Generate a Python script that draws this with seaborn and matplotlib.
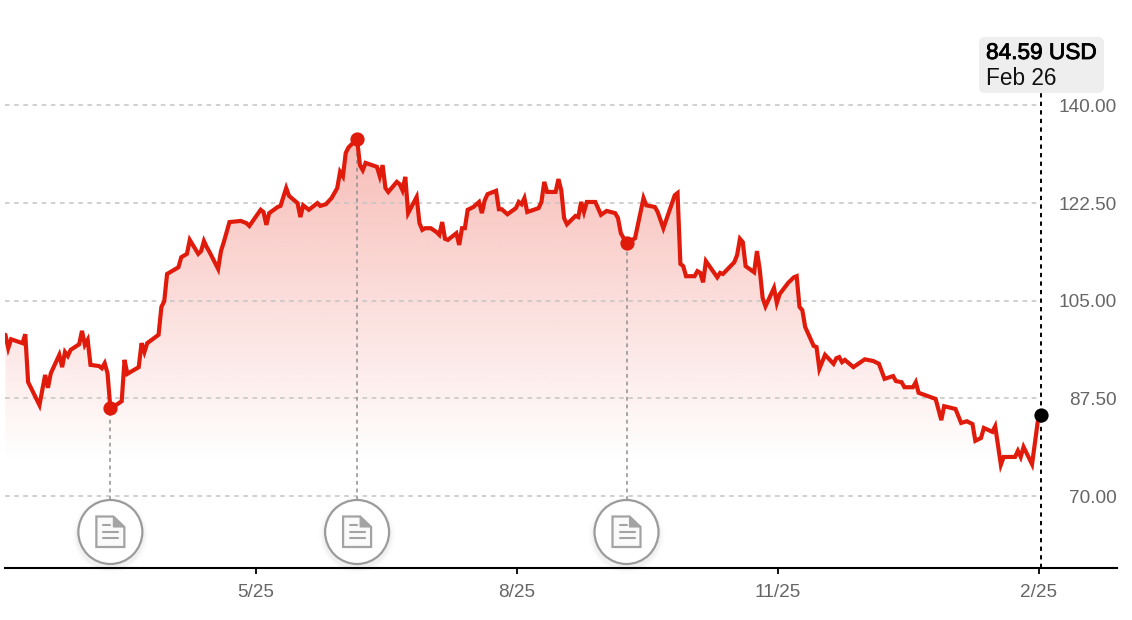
import numpy as np
import pandas as pd
import matplotlib
matplotlib.use("Agg")
import matplotlib.pyplot as plt
import matplotlib.dates as mdates
import matplotlib.patheffects as pe
from matplotlib.patches import Circle, FancyBboxPatch, Polygon
import seaborn as sns

# --- data ---
start_date = "2025-02-26"
days = [0, 1, 2, 6, 7, 8, 9, 12, 14, 15, 16, 19, 20, 21, 22, 23, 26, 27, 28, 29, 30, 33, 34, 35, 36, 37,
        39, 41, 42, 43, 47, 48, 49, 50, 54, 55, 56, 57, 58, 61, 62, 64, 65, 68, 69, 70, 71, 72, 75, 76, 77, 79,
        83, 85, 86, 90, 91, 92, 93, 96, 97, 99, 100, 103, 104, 105, 107, 110, 111, 113, 115, 117, 118, 119,
        120, 121, 124, 125, 126, 127, 131, 132, 133, 134, 135, 138, 139, 140, 141, 142, 145, 146, 147, 148,
        150, 152, 153, 154, 155, 156, 159, 160, 161, 162, 163, 165, 167, 168, 169, 170, 173, 174, 175, 177,
        180, 181, 182, 183, 184, 188, 189, 190, 191, 194, 195, 196, 197, 198, 201, 202, 203, 204, 205, 208,
        210, 212, 215, 216, 217, 219, 222, 225, 226, 229, 230, 232, 236, 237, 238, 239, 240, 243, 244, 245,
        246, 247, 251, 252, 253, 257, 258, 259, 260, 261, 264, 265, 266, 267, 268, 271, 272, 273, 276, 278,
        279, 280, 281, 282, 285, 286, 287, 289, 292, 293, 294, 295, 296, 299, 303, 306, 308, 310, 313, 314,
        316, 317, 320, 321, 322, 328, 330, 331, 335, 337, 339, 341, 342, 344, 345, 348, 349, 351, 352, 356,
        357, 358, 359, 362, 364, 365]
close = [98.9, 96.5, 98.1, 97.4, 99.0, 90.4, 89.4, 86.3, 91.7, 89.4, 92.0, 95.3, 93.1, 95.8, 95.1, 96.2, 97.2, 99.6, 97.1, 98.0, 93.5, 93.3, 92.9, 93.8, 92.0, 85.8,
         86.3, 87.0, 94.4, 91.9, 93.1, 97.4, 95.8, 97.4, 98.9, 103.9, 104.9, 109.8, 110.1, 111.0, 112.8, 113.4, 115.9, 113.4, 113.9, 115.7, 114.6, 113.7, 110.7, 113.9, 115.5, 119.1,
         119.3, 118.9, 118.4, 121.3, 120.9, 118.6, 120.7, 121.8, 122.0, 125.2, 123.8, 122.5, 120.0, 122.1, 121.3, 122.5, 122.0, 122.3, 123.4, 125.2, 128.1, 127.3,
         131.5, 132.5, 134.0, 129.3, 128.4, 129.7, 129.0, 127.3, 129.3, 125.2, 124.5, 126.3, 125.9, 124.8, 127.2, 120.7, 123.6, 118.9, 117.7, 118.0,
         118.0, 117.3, 116.8, 119.1, 116.1, 115.9, 117.1, 115.0, 118.0, 118.0, 121.3, 121.8, 122.7, 120.7, 123.0, 124.1, 124.7, 121.4, 121.4, 120.5,
         121.6, 122.7, 122.3, 123.4, 120.9, 121.6, 122.7, 126.3, 124.5, 124.5, 126.8, 124.8, 119.8, 118.7, 120.2, 120.0, 122.7, 120.9, 122.7, 122.7,
         120.4, 121.1, 120.7, 119.8, 117.1, 115.3, 116.2, 123.4, 122.1, 121.8, 120.9, 118.0, 123.9, 124.3, 111.6, 111.2, 109.4, 109.4, 110.3, 110.0,
         108.3, 112.1, 109.2, 110.0, 109.8, 111.9, 113.2, 116.1, 115.5, 111.2, 110.1, 113.9, 110.5, 105.5, 104.0, 107.3, 104.6, 106.2, 108.2, 109.2,
         109.4, 103.9, 103.3, 100.3, 96.9, 96.7, 92.8, 95.3, 93.7, 94.7, 94.9, 94.0, 94.4, 93.1, 94.5, 94.2, 93.7, 91.0, 91.5, 90.6,
         90.4, 89.5, 89.5, 90.4, 88.5, 87.4, 83.6, 86.1, 85.6, 83.1, 83.4, 82.9, 79.9, 80.4, 82.2, 81.5, 82.5, 75.6, 77.0, 77.0,
         78.1, 77.0, 78.8, 75.7, 83.3, 84.59]
event_days = [37, 124, 219]
event_close = [85.8, 134.0, 115.3]
y_ticks = [70, 87.5, 105, 122.5, 140]
x_tick_dates = ["2025-05-25 08:00", "2025-08-25 08:00", "2025-11-25 08:00", "2026-02-25 08:00"]
x_tick_labels = ["5/25", "8/25", "11/25", "2/25"]
last_price = "84.59 USD"
last_date = "Feb 26"

RED = "#e01b0c"
GREY = "#666666"

sns.set_theme(style="white")
plt.rcParams["font.family"] = ["Liberation Sans", "DejaVu Sans"]

df = pd.DataFrame({"date": pd.Timestamp(start_date) + pd.to_timedelta(days, unit="D"), "close": close})
events = pd.DataFrame({"date": pd.Timestamp(start_date) + pd.to_timedelta(event_days, unit="D"), "close": event_close})
last = df.iloc[[-1]]

W, H = 1132, 620
fig = plt.figure(figsize=(W / 100, H / 100), dpi=100, facecolor="white")
ax = fig.add_axes([5 / W, (H - 568) / H, 1112 / W, 568 / H])
x_left = pd.Timestamp(start_date) - pd.Timedelta(days=0.15)
x_right = x_left + pd.Timedelta(days=1112 / 2.836)
y_low, y_high = 57.1, 158.9

# gradient under the line, clipped to the area
grad = np.ones((256, 2, 4))
grad[..., :3] = matplotlib.colors.to_rgb("#e6200f")
grad[..., 3] = np.linspace(0, 1, 256)[:, None] * 0.30
area = ax.fill_between(df["date"], df["close"], y_low, color="none", lw=0)
img = ax.imshow(grad, origin="lower", aspect="auto", zorder=1,
                extent=[mdates.date2num(x_left), mdates.date2num(x_right), 76, 134])
img.set_clip_path(area.get_paths()[0], transform=ax.transData)

# grid + guides
ax.hlines(y_ticks, x_left, df["date"].iloc[-1], color="#c4c4c4", lw=1.1, linestyles=(0, (3, 3)), zorder=2)
ax.vlines(events["date"], 69.3, events["close"], color="#8f8f8f", lw=1.1, linestyles=(0, (2.5, 2.5)), zorder=2)
ax.vlines(last["date"], y_low, 143.3, color="black", lw=1.4, linestyles=(0, (2.2, 2.2)), zorder=5)

sns.lineplot(data=df, x="date", y="close", color=RED, lw=3.0, estimator=None, sort=False, ax=ax, zorder=4,
             solid_joinstyle="miter")
sns.scatterplot(data=events, x="date", y="close", color=RED, s=105, linewidth=0, ax=ax, zorder=6)
sns.scatterplot(data=last, x="date", y="close", color="black", s=105, linewidth=0, ax=ax, zorder=6)

ax.set_xlim(x_left, x_right)
ax.set_ylim(y_low, y_high)
ax.set_xlabel("")
ax.set_ylabel("")
ax.set_xticks(pd.to_datetime(x_tick_dates))
ax.set_xticklabels(x_tick_labels)
ax.set_yticks(y_ticks)
ax.set_yticklabels([f"{v:.2f}" for v in y_ticks], ha="right")
ax.yaxis.tick_right()
ax.tick_params(axis="y", length=0, pad=0, labelsize=13.7, labelcolor=GREY)
ax.tick_params(axis="x", bottom=True, length=4.5, width=1.3, color="black", pad=7, labelsize=13.7, labelcolor=GREY)
sns.despine(ax=ax, left=True, right=True, top=True)
ax.spines["bottom"].set_color("black")
ax.spines["bottom"].set_linewidth(1.5)
ax.patch.set_alpha(0)

# overlay in pixel coords for the report icons and the callout
ov = fig.add_axes([0, 0, 1, 1], zorder=10)
ov.set_xlim(0, W)
ov.set_ylim(H, 0)
ov.axis("off")
ICON = "#a3a3a3"
fig.canvas.draw()
for d in events["date"]:
    cx = ax.transData.transform((mdates.date2num(d), 70))[0]
    cy = 532
    for r, a in [(38, 0.012), (36, 0.018), (34.5, 0.025)]:
        ov.add_patch(Circle((cx, cy + 3), r, fc="black", ec="none", alpha=a))
    ov.add_patch(Circle((cx, cy), 32, fc="white", ec="#9b9b9b", lw=1.6))
    ov.add_patch(Polygon([(cx - 14, cy - 15.5), (cx + 3, cy - 15.5), (cx + 14, cy - 5), (cx + 14, cy + 15), (cx - 14, cy + 15)],
                         closed=True, fc="#fafafa", ec=ICON, lw=1.6))
    ov.add_patch(Polygon([(cx + 3, cy - 15.5), (cx + 14, cy - 5), (cx + 3, cy - 5)], closed=True, fc=ICON, ec=ICON, lw=0.8))
    ov.plot([cx - 7, cx], [cy - 7, cy - 7], color=ICON, lw=1.5)
    ov.plot([cx - 7, cx + 8], [cy - 0.5, cy - 0.5], color=ICON, lw=1.5)
    ov.plot([cx - 7, cx + 8], [cy + 6, cy + 6], color=ICON, lw=1.5)

ov.add_patch(FancyBboxPatch((985, 43), 113, 44, boxstyle="round,pad=6,rounding_size=6", fc="#eeeeee", ec="none"))
ov.text(986, 52.5, last_price, fontsize=16.3, color="black", va="center", ha="left",
        path_effects=[pe.withStroke(linewidth=0.6, foreground="black")])
ov.text(986, 78.5, last_date, fontsize=16.3, color="#111111", va="center", ha="left")

fig.savefig("out.png", dpi=100, facecolor="white")
plt.close(fig)
